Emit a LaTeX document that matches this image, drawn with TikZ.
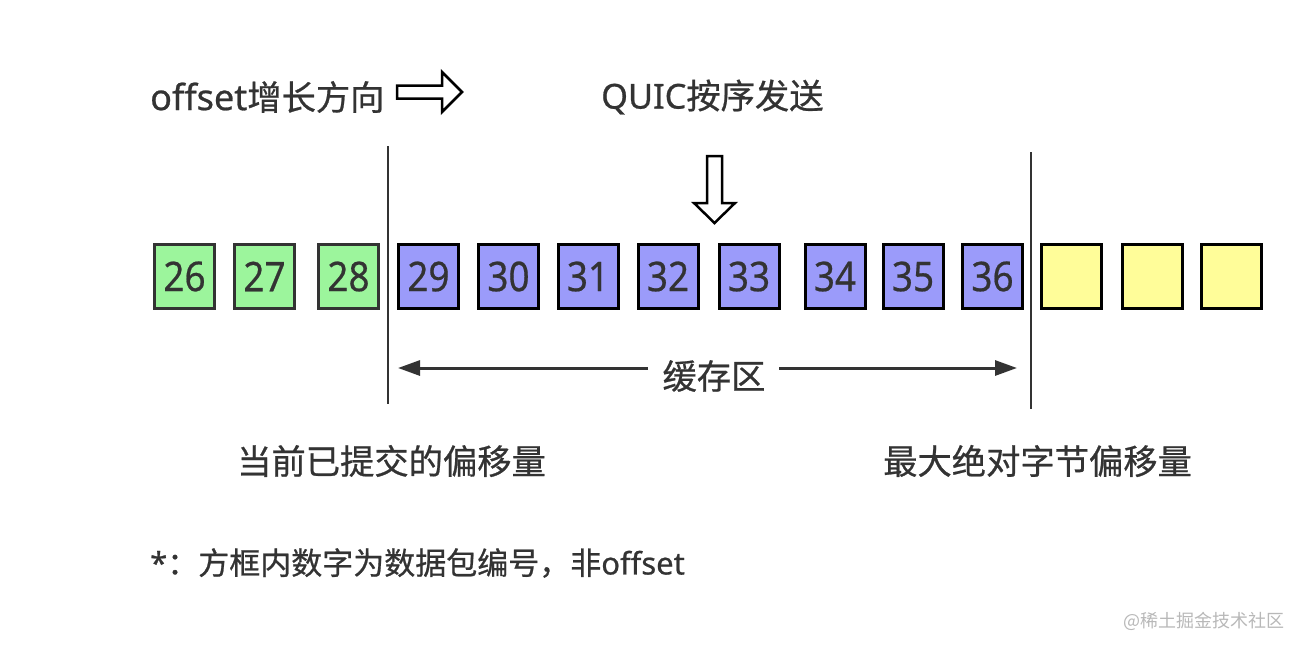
\documentclass[tikz,border=0pt]{standalone}
\usepackage{fontspec}
\setmainfont[FakeBold=0.7]{Noto Sans}
\newfontfamily\cjk[FakeBold=0.7]{Noto Sans CJK SC}
\newfontfamily\wmfont{Noto Sans CJK SC}
\newfontfamily\digits[FakeStretch=0.9,FakeBold=0.5]{Noto Sans}
\usetikzlibrary{arrows.meta}
\definecolor{txt}{HTML}{333333}
\definecolor{gfill}{HTML}{9CF59C}
\definecolor{bfill}{HTML}{9B9BFA}
\definecolor{yfill}{HTML}{FFFD99}
\definecolor{wm}{HTML}{B8B8B8}
\begin{document}
\begin{tikzpicture}[x=1pt,y=-1pt,
  cell/.style={line width=3pt, minimum width=60pt, minimum height=64pt, inner sep=0pt,
    font=\digits\fontsize{41}{41}\selectfont, text=txt},
  gcell/.style={cell, draw=txt, fill=gfill},
  bcell/.style={cell, draw=black, fill=bfill},
  ycell/.style={cell, draw=black, fill=yfill},
  label/.style={inner sep=0pt, text=txt, font=\fontsize{34.3}{34}\selectfont},
  small/.style={inner sep=0pt, text=txt, font=\fontsize{31}{31}\selectfont},
  hollow/.style={draw=black, fill=white, line width=2.5pt, line join=miter},
  divider/.style={draw=txt, line width=2.5pt},
  span/.style={draw=txt, line width=3pt, -{Triangle[length=22pt,width=15pt]}}
]
\useasboundingbox (0,0) rectangle (1304,649);

% top labels
\node[label, anchor=west] (dir) at (150,97) {{\fontsize{36}{36}\selectfont offset}{\cjk 增长方向}};
\node[label, anchor=west] (quic) at (601,97) {QUIC{\cjk 按序发送}};

% hollow right arrow
\path[hollow] (397,85.5) -- (442,85.5) -- (442,72) -- (462,92) -- (442,112) -- (442,98.5) -- (397,98.5) -- cycle;
% hollow down arrow
\path[hollow] (707,156) -- (722,156) -- (722,203) -- (735,203) -- (714.5,223) -- (694,203) -- (707,203) -- cycle;

% cells
\node[gcell] (c26) at (184.5,276.5) {26};
\node[gcell] (c27) at (264.5,276.5) {27};
\node[gcell] (c28) at (348.5,276.5) {28};
\node[bcell] (c29) at (428.5,276.5) {29};
\node[bcell] (c30) at (508.5,276.5) {30};
\node[bcell] (c31) at (588,276.5) {31};
\node[bcell] (c32) at (668,276.5) {32};
\node[bcell] (c33) at (749,276.5) {33};
\node[bcell] (c34) at (835,276.5) {34};
\node[bcell] (c35) at (913,276.5) {35};
\node[bcell] (c36) at (992.5,276.5) {36};
\node[ycell] (y1) at (1071.5,276.5) {};
\node[ycell] (y2) at (1152,276.5) {};
\node[ycell] (y3) at (1231,276.5) {};

% dividers
\coordinate (l1) at (388,146);
\coordinate (l2) at (388,404);
\coordinate (r1) at (1031,152);
\coordinate (r2) at (1031,409);
\draw[divider] (l1) -- (l2);
\draw[divider] (r1) -- (r2);

% buffer span
\node[label] (buf) at (714,376) {\cjk 缓存区};
\coordinate (bl) at (398,368);
\coordinate (br) at (1017,368);
\draw[span] (648,368) -- (bl);
\draw[span] (779,368) -- (br);

% bottom labels
\node[label, anchor=west] (cur) at (237,461) {\cjk 当前已提交的偏移量};
\node[label, anchor=west] (max) at (883,461) {\cjk 最大绝对字节偏移量};
\node[small, anchor=west] (note) at (150,563) {*{\cjk ：方框内数字为数据包编号，非}offset};

\node[inner sep=0pt, anchor=west, text=wm, font=\wmfont\fontsize{18}{18}\selectfont] (wmk) at (1123,621) {@稀土掘金技术社区};
\end{tikzpicture}
\end{document}
